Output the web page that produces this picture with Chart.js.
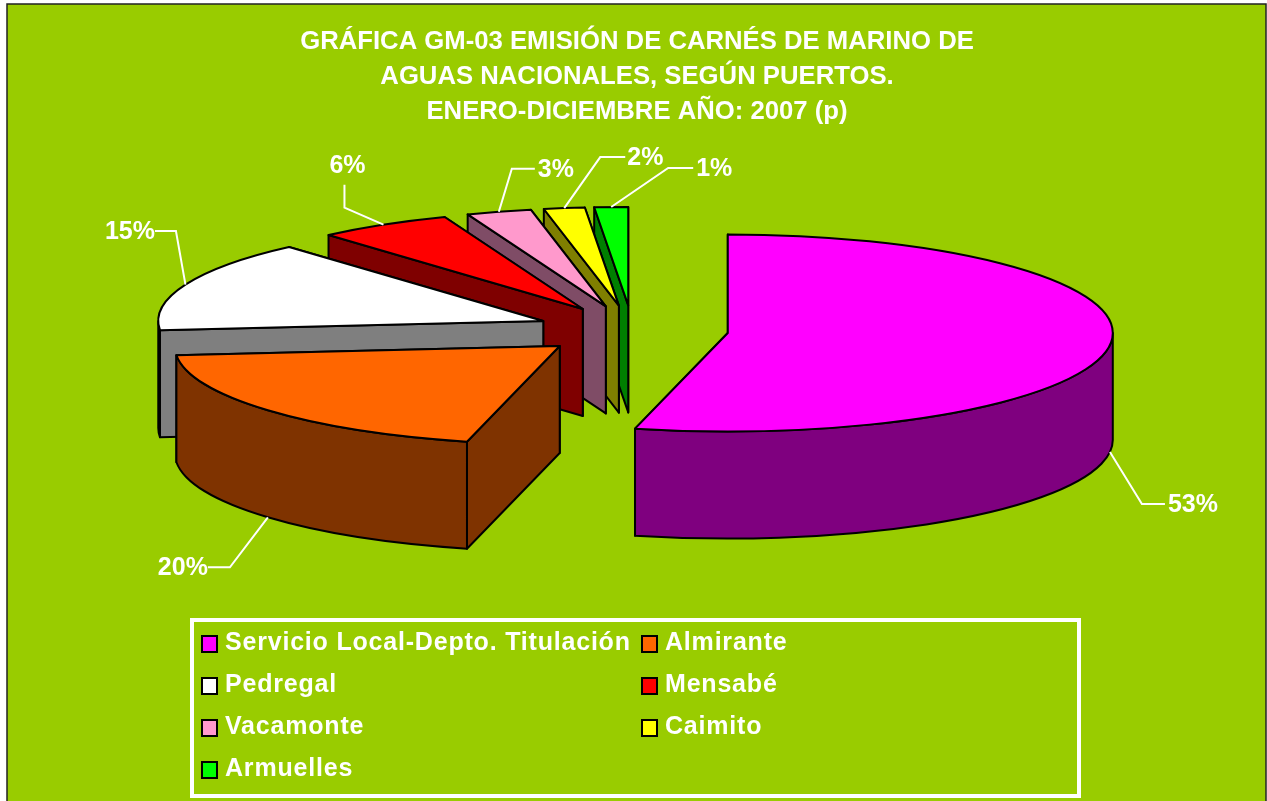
<!DOCTYPE html>
<html>
<head>
<meta charset="utf-8">
<script src="https://cdn.jsdelivr.net/npm/chart.js@4"></script>
<style>html,body{margin:0;padding:0;background:#fff;overflow:hidden}canvas{display:block}</style>
</head>
<body>
<canvas id="c" width="1267" height="801"></canvas>
<script>
const titleLines = ['GRÁFICA GM-03 EMISIÓN DE CARNÉS DE MARINO DE', 'AGUAS NACIONALES, SEGÚN PUERTOS.', 'ENERO-DICIEMBRE AÑO: 2007 (p)'];
const categories = ['Servicio Local-Depto. Titulación', 'Almirante', 'Pedregal', 'Mensabé', 'Vacamonte', 'Caimito', 'Armuelles'];
const sharePercent = [53.49, 19.5, 14.9, 5.6, 2.7, 1.7, 1.4];
const sliceColors = ['#FF00FF', '#FF6600', '#FFFFFF', '#FF0000', '#FF99CC', '#FFFF00', '#00FF00'];

// Presentation settings
const SQUASH = 0.256, DEPTH = 107, EXPLODE = 96, RADIUS = 385, SHIFT_X = -4.5;
const FONT = '"Liberation Sans", Arial, sans-serif';
const LABEL_FONT = 'bold 25px ' + FONT;
const LEGEND_FONT = 'bold 25px ' + FONT;
// leader: elbow offset from rim anchor, run offset from elbow, text offset from run end, text align
const leaderElbow = [[32, 52], [-38, 50], [-9.5, -53.5], [-39, -17], [13, -43], [36, -51], [57, -39]];
const leaderRun = [[23, 0], [-22, 0], [-21, 0], [0, -23], [23, 0], [25, 0], [25, 0]];
const leaderText = [[3, 1, 'left'], [0, 1, 'right'], [0, 1, 'right'], [3, -19, 'center'], [3, 1, 'left'], [2, 1, 'left'], [3, 1, 'left']];
const legendBox = {x: 190, y: 618, w: 891, h: 180};
const legendCols = [202, 642], legendRowTop = 643, legendRowStep = 42;

function halfColor(hex) {
  const n = parseInt(hex.slice(1), 16);
  return 'rgb(' + ((n >> 16 & 255) >> 1) + ',' + ((n >> 8 & 255) >> 1) + ',' + ((n & 255) >> 1) + ')';
}

const pie3d = {
  id: 'pie3d',
  beforeDraw(chart) {
    const ctx = chart.ctx;
    ctx.save();
    ctx.fillStyle = '#99CC00';
    ctx.fillRect(7, 4, 1259, 800);
    ctx.strokeStyle = '#222';
    ctx.lineWidth = 1.5;
    ctx.strokeRect(7, 4, 1259, 800);
    ctx.restore();
  },
  beforeDatasetsDraw(chart) {
    const ctx = chart.ctx;
    const meta = chart.getDatasetMeta(0);
    const slices = meta.data.map((el, i) => {
      const p = el.getProps(['x', 'y', 'startAngle', 'endAngle', 'outerRadius'], true);
      const mid = (p.startAngle + p.endAngle) / 2;
      const ax = p.x + SHIFT_X + Math.cos(mid) * EXPLODE;
      const ay = p.y + Math.sin(mid) * EXPLODE * SQUASH;
      return {el, i, p, mid, ax, ay, r: p.outerRadius};
    });
    const rim = (s, t, dy) => [s.ax + s.r * Math.cos(t), s.ay + s.r * SQUASH * Math.sin(t) + dy];
    const drawWall = (s, t, fill) => {
      const a = rim(s, t, 0), b = rim(s, t, DEPTH);
      ctx.beginPath();
      ctx.moveTo(s.ax, s.ay);
      ctx.lineTo(a[0], a[1]);
      ctx.lineTo(b[0], b[1]);
      ctx.lineTo(s.ax, s.ay + DEPTH);
      ctx.closePath();
      ctx.fillStyle = fill;
      ctx.fill();
      ctx.stroke();
    };
    ctx.save();
    ctx.lineJoin = 'round';
    ctx.strokeStyle = '#000';
    ctx.lineWidth = 2;
    [...slices].sort((a, b) => a.ay - b.ay).forEach(s => {
      const side = halfColor(sliceColors[s.i]);
      drawWall(s, s.p.endAngle, side);
      drawWall(s, s.p.startAngle, side);
      const lo = Math.max(s.p.startAngle, 0), hi = Math.min(s.p.endAngle, Math.PI);
      if (hi > lo) {
        ctx.beginPath();
        ctx.ellipse(s.ax, s.ay, s.r, s.r * SQUASH, 0, lo, hi);
        ctx.ellipse(s.ax, s.ay + DEPTH, s.r, s.r * SQUASH, 0, hi, lo, true);
        ctx.closePath();
        ctx.fillStyle = side;
        ctx.fill();
        ctx.stroke();
      }
      ctx.save();
      ctx.translate(s.ax, s.ay);
      ctx.scale(1, SQUASH);
      ctx.translate(-s.p.x, -s.p.y);
      s.el.draw(ctx);
      ctx.restore();
      ctx.beginPath();
      ctx.moveTo(s.ax, s.ay);
      ctx.ellipse(s.ax, s.ay, s.r, s.r * SQUASH, 0, s.p.startAngle, s.p.endAngle);
      ctx.closePath();
      ctx.stroke();
    });
    ctx.restore();

    // percentage labels with leader lines
    ctx.save();
    ctx.strokeStyle = '#fff';
    ctx.fillStyle = '#fff';
    ctx.lineWidth = 2;
    ctx.font = LABEL_FONT;
    ctx.textBaseline = 'middle';
    slices.forEach(s => {
      const front = Math.sin(s.mid) > 0;
      const a = rim(s, s.mid, front ? DEPTH : 0);
      const e = [a[0] + leaderElbow[s.i][0], a[1] + leaderElbow[s.i][1]];
      const f = [e[0] + leaderRun[s.i][0], e[1] + leaderRun[s.i][1]];
      ctx.beginPath();
      ctx.moveTo(a[0], a[1]);
      ctx.lineTo(e[0], e[1]);
      ctx.lineTo(f[0], f[1]);
      ctx.stroke();
      const t = leaderText[s.i];
      ctx.textAlign = t[2];
      ctx.fillText(Math.round(sharePercent[s.i]) + '%', f[0] + t[0], f[1] + t[1]);
    });
    ctx.restore();

    // legend box
    ctx.save();
    ctx.strokeStyle = '#fff';
    ctx.lineWidth = 4;
    ctx.strokeRect(legendBox.x + 2, legendBox.y + 2, legendBox.w - 4, legendBox.h - 4);
    ctx.font = LEGEND_FONT;
    ctx.letterSpacing = '0.8px';
    ctx.textBaseline = 'middle';
    ctx.textAlign = 'left';
    categories.forEach((name, i) => {
      const x = legendCols[i % 2];
      const y = legendRowTop + legendRowStep * Math.floor(i / 2);
      ctx.fillStyle = sliceColors[i];
      ctx.fillRect(x, y - 7, 15, 16);
      ctx.strokeStyle = '#000';
      ctx.lineWidth = 2;
      ctx.strokeRect(x, y - 7, 15, 16);
      ctx.fillStyle = '#fff';
      ctx.fillText(name, x + 23, y);
    });
    ctx.restore();
    return false;
  }
};

new Chart(document.getElementById('c'), {
  type: 'pie',
  data: {
    labels: categories,
    datasets: [{
      data: sharePercent,
      backgroundColor: sliceColors,
      borderWidth: 0,
      offset: 0,
      clip: false
    }]
  },
  plugins: [pie3d],
  options: {
    responsive: false,
    animation: false,
    events: [],
    radius: RADIUS,
    layout: {padding: {left: 7, right: 0, top: 24, bottom: 270}},
    plugins: {
      legend: {display: false},
      tooltip: {enabled: false},
      title: {
        display: true,
        text: titleLines,
        color: '#fff',
        font: {family: FONT, weight: 'bold', size: 25.7, lineHeight: 35 / 25.7},
        padding: 0
      }
    }
  }
});
</script>
</body>
</html>
